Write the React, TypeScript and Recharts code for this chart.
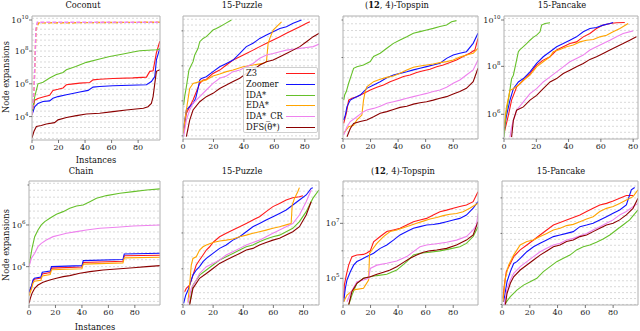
import React from 'react';
import { LineChart, Line, XAxis, YAxis, ReferenceLine } from 'recharts';

// every point is [instance, log10(node expansions)]
type Pt = [number, number];

// ---- Coconut
const c1Z3: Pt[] = [[0,4.1],[2,5.0],[4.5,5.1],[8.3,5.2],[13.3,5.3],[15.8,5.6],[19.6,5.67],[23.4,5.75],[25.9,5.94],[29.7,5.98],[36,6.04],[43.5,6.08],[46,6.24],[51,6.28],[61,6.32],[76,6.36],[86.3,6.41],[88.8,6.76],[91.3,6.8],[92.6,7.37],[93.8,7.9],[96.4,8.6]];
const c1Zoomer: Pt[] = [[0,4.1],[2,4.6],[4.5,4.8],[8.3,4.92],[13.3,4.96],[15.8,5.12],[19.6,5.22],[25.9,5.33],[29.7,5.39],[36,5.5],[42.3,5.6],[46,5.8],[51,5.84],[61,5.88],[86.3,5.94],[90,6.14],[92.6,6.45],[93.8,7.47],[96.4,8.18]];
const c1IDA: Pt[] = [[0,4.2],[2,5.2],[4.5,6.0],[8.3,6.1],[13.3,6.35],[18,6.55],[23.4,6.69],[25.9,6.86],[33,7.06],[41,7.31],[51,7.51],[58.6,7.67],[68.7,7.82],[76.2,7.94],[81.3,8.02],[93.8,8.08],[96.4,8.12]];
const c1EDA: Pt[] = [[0,4.1],[1.5,5.5],[3,9.3],[5,9.72],[96.5,9.76]];
const c1CR: Pt[] = [[0,4.1],[1.5,5.5],[3,9.4],[4,9.76],[96.5,9.76]];
const c1DFS: Pt[] = [[0,2.7],[1.5,3.1],[3.3,3.4],[7,3.45],[10.8,3.55],[17,3.63],[19.6,3.8],[26,3.94],[33.5,4.06],[41,4.16],[51,4.2],[61,4.3],[71,4.4],[84,4.51],[87.5,4.6],[90,4.8],[91.3,5.22],[92.6,6.04],[93.8,6.76],[96.4,6.86]];

// ---- 15-Puzzle (top)
const c2Z3: Pt[] = [[0.4,4.14],[2.2,5.29],[4.4,5.67],[6.6,6.05],[11,7.0],[13.2,7.19],[15.3,7.22],[19.7,7.57],[24.1,7.76],[28.5,8.05],[32.9,8.33],[37.3,8.52],[41.6,8.71],[46,8.9],[50.4,9.1],[54.8,9.29],[59.2,9.48],[63.6,9.67],[67.9,9.86],[72.3,10.05],[76.7,10.24],[81.1,10.43],[83.3,10.52]];
const c2Zoomer: Pt[] = [[0.4,4.43],[2.2,5.48],[4.4,5.67],[6.6,5.86],[8.3,6.14],[9.9,6.71],[11,7.19],[12.1,7.28],[15.3,7.38],[19.7,7.67],[24.1,7.95],[28.5,8.14],[32.9,8.33],[37.3,8.71],[41.6,9.1],[46,9.29],[50.4,9.57],[54.8,9.76],[59.2,9.95],[63.6,10.14],[67.9,10.24],[72.3,10.43],[77.8,10.62]];
const c2IDA: Pt[] = [[0.4,5.76],[1.1,6.24],[2.2,6.8],[3.9,7.76],[5.5,8.05],[6.6,8.24],[7.7,8.62],[9.9,9.0],[11,9.38],[13.2,9.57],[15.3,9.67],[17.5,9.86],[19.7,10.05],[21.9,10.14],[24.1,10.24],[27.4,10.4],[31.8,10.62]];
const c2EDA: Pt[] = [[0,4.14],[2.2,5.48],[4.4,6.71],[5.5,6.85],[6.6,7.0],[11,7.1],[15.3,7.19],[19.7,7.42],[24.1,7.53],[28.5,7.67],[32.9,7.76],[39.5,7.95],[46,8.05],[52.6,8.14],[54.8,8.24],[55.9,9.29],[57,9.57],[59.2,10.05],[62.5,10.33],[64.7,10.52]];
const c2CR: Pt[] = [[0.4,3.95],[2.2,4.9],[4.4,5.48],[6.6,5.86],[11,6.24],[15.3,6.62],[19.7,7.0],[24.1,7.29],[28.5,7.42],[32.9,7.67],[37.3,7.76],[41.6,7.95],[46,8.14],[50.4,8.43],[54.8,8.62],[59.2,8.71],[63.6,8.81],[67.9,8.9],[72.3,8.95],[76.7,9.0],[81.1,9.05],[85.5,9.1],[89.4,9.25]];
const c2DFS: Pt[] = [[2.2,3.95],[4.4,4.9],[6.6,5.48],[11,5.95],[15.3,6.24],[19.7,6.43],[24.1,6.71],[28.5,6.9],[32.9,7.1],[37.3,7.29],[41.6,7.57],[46,7.76],[50.4,8.05],[54.8,8.24],[59.2,8.33],[63.6,8.52],[67.9,8.71],[72.3,8.9],[76.7,9.1],[81.1,9.38],[85.5,9.67],[89.4,9.86]];

// ---- (12, 4)-Topspin (top)
const c3Z3: Pt[] = [[0.5,4.75],[2.4,5.25],[4.1,5.9],[6.5,5.99],[10.1,6.07],[14.9,6.23],[19.8,6.4],[24.6,6.53],[29.4,6.65],[34.2,6.81],[39,6.93],[43.9,7.06],[48.7,7.14],[53.5,7.26],[58.3,7.35],[63.1,7.42],[68,7.55],[72.8,7.63],[77.6,7.75],[82.4,7.88],[87.2,8.05],[92,8.21],[95.7,8.37],[98,8.95]];
const c3Zoomer: Pt[] = [[0.5,4.92],[1.7,5.16],[2.9,5.58],[5.3,5.9],[7.7,5.99],[12.5,6.15],[17.3,6.48],[22.2,6.65],[27,6.81],[31.8,7.0],[36.6,7.14],[41.4,7.22],[46.3,7.3],[51.1,7.39],[55.9,7.47],[60.7,7.55],[65.5,7.63],[70.4,7.72],[75.2,7.96],[80,8.13],[84.8,8.21],[89.6,8.29],[94.5,8.7],[98,9.2]];
const c3IDA: Pt[] = [[0.5,5.9],[1.2,6.15],[2.4,6.32],[4.1,6.73],[6.5,7.22],[7.7,7.47],[10.1,7.55],[14.9,7.63],[19.8,7.8],[22.2,8.05],[27,8.21],[31.8,8.46],[36.6,8.7],[41.4,8.87],[46.3,9.03],[51.1,9.2],[55.9,9.28],[60.7,9.36],[65.5,9.44],[70.4,9.53],[75.2,9.61],[78.8,9.77],[82.4,9.82]];
const c3EDA: Pt[] = [[0.5,4.26],[4.1,4.59],[7.7,4.66],[10.1,4.92],[12.5,5.08],[13.7,5.16],[14.9,5.9],[16.1,6.32],[17.3,6.56],[22.2,6.81],[27,6.93],[31.8,7.02],[36.6,7.09],[41.4,7.22],[46.3,7.39],[51.1,7.52],[55.9,7.58],[60.7,7.63],[65.5,7.68],[70.4,7.75],[75.2,7.8],[80,7.88],[84.8,8.02],[89.6,8.13],[94.5,8.21],[98,8.46]];
const c3CR: Pt[] = [[0.5,4.18],[2.9,4.59],[5.3,4.84],[10.1,5.08],[14.9,5.33],[17.3,5.41],[22.2,5.49],[27,5.6],[31.8,5.74],[36.6,5.82],[41.4,5.9],[46.3,5.99],[51.1,6.07],[55.9,6.15],[60.7,6.23],[65.5,6.32],[70.4,6.4],[75.2,6.53],[80,6.73],[84.8,6.89],[89.6,7.14],[94.5,7.39],[98,7.88]];
const c3DFS: Pt[] = [[2.9,4.09],[5.3,4.5],[7.7,4.75],[12.5,4.84],[17.3,4.92],[22.2,5.08],[27,5.25],[31.8,5.33],[36.6,5.44],[41.4,5.54],[46.3,5.6],[51.1,5.7],[55.9,5.77],[60.7,5.82],[65.5,5.9],[70.4,5.99],[75.2,6.07],[80,6.2],[84.8,6.32],[89.6,6.48],[94.5,6.81],[98,7.47]];

// ---- 15-Pancake (top)
const c4Z3: Pt[] = [[0,5.19],[2.7,5.96],[4.7,6.59],[7.8,7.14],[12,7.42],[16.1,7.7],[20.2,8.05],[24.3,8.26],[28.5,8.4],[32.6,8.68],[36.7,8.82],[40.8,8.95],[44.9,9.02],[49.1,9.23],[53.2,9.37],[57.3,9.58],[61.4,9.72],[65.6,9.79],[69.7,9.82],[74.8,9.83]];
const c4Zoomer: Pt[] = [[0,5.33],[1.6,5.96],[3.7,6.59],[5.8,7.07],[8.9,7.35],[12,7.49],[16.1,7.77],[20.2,8.12],[24.3,8.4],[28.5,8.61],[32.6,8.82],[36.7,8.95],[40.8,9.09],[44.9,9.23],[49.1,9.44],[53.2,9.58],[57.3,9.62],[61.4,9.72],[65.6,9.79],[67.6,9.83]];
const c4IDA: Pt[] = [[0,5.05],[1.2,6.03],[2.7,6.59],[4.7,7.49],[5.8,7.63],[7.8,8.26],[8.9,8.61],[9.9,8.7],[12,8.82],[14,8.95],[16.1,9.09],[18.1,9.21],[20.2,9.3],[22.3,9.44],[23.3,9.72],[25.4,9.79],[28.5,9.82]];
const c4EDA: Pt[] = [[0,5.47],[1.6,6.31],[3.7,7.0],[5.8,7.07],[8.9,7.21],[12,7.42],[16.1,7.63],[20.2,7.98],[24.3,8.19],[28.5,8.4],[30.5,8.61],[34.6,8.7],[38.8,8.82],[42.9,8.89],[47,9.02],[51.1,9.09],[55.3,9.12],[59.4,9.23],[63.5,9.3],[67.6,9.44],[71.8,9.58],[76.9,9.79]];
const c4CR: Pt[] = [[3.7,5.05],[4.7,5.47],[5.8,5.75],[7.8,6.17],[12,6.52],[16.1,6.86],[20.2,7.07],[24.3,7.35],[28.5,7.56],[32.6,7.77],[36.7,7.98],[40.8,8.19],[44.9,8.33],[49.1,8.47],[53.2,8.68],[57.3,8.82],[61.4,8.95],[65.6,9.09],[69.7,9.23],[73.8,9.37],[80,9.48]];
const c4DFS: Pt[] = [[4.7,5.05],[5.8,5.75],[7.8,6.17],[12,6.31],[16.1,6.59],[20.2,6.79],[24.3,7.07],[28.5,7.35],[32.6,7.49],[36.7,7.7],[40.8,7.84],[44.9,7.98],[49.1,8.12],[53.2,8.29],[57.3,8.4],[61.4,8.54],[65.6,8.68],[69.7,8.82],[73.8,8.95],[77.9,9.09],[82,9.23]];

// ---- Chain
const c5Z3: Pt[] = [[0,2.75],[2,3.05],[3,3.3],[4,3.4],[9,3.45],[10,3.65],[16,3.72],[17,3.93],[40,3.98],[41,4.2],[71,4.26],[72,4.52],[99,4.55]];
const c5Zoomer: Pt[] = [[0,2.8],[2,3.1],[3,3.36],[4,3.44],[9,3.5],[10,3.73],[16,3.79],[17,4.0],[40,4.05],[41,4.29],[71,4.34],[72,4.61],[99,4.64]];
const c5IDA: Pt[] = [[0,4.0],[1,4.4],[2.3,4.88],[4.3,5.44],[6.8,5.76],[9.3,6.0],[11.9,6.16],[15.7,6.32],[20.7,6.51],[25.8,6.64],[30.8,6.8],[35.9,6.91],[40.9,6.96],[46,7.12],[51,7.28],[58.6,7.41],[68.7,7.52],[78.8,7.6],[88.9,7.68],[99,7.73]];
const c5EDA: Pt[] = [[0,2.6],[2,2.95],[3,3.2],[4,3.3],[9,3.35],[10,3.55],[16,3.62],[17,3.85],[40,3.9],[41,4.12],[71,4.18],[72,4.42],[99,4.45]];
const c5CR: Pt[] = [[0,4.0],[1.8,4.4],[4.3,4.64],[6.8,4.96],[9.3,5.12],[13.1,5.28],[18.2,5.44],[23.2,5.52],[28.3,5.6],[35.9,5.68],[43.4,5.76],[53.5,5.84],[66.2,5.89],[78.8,5.95],[99,6.0]];
const c5DFS: Pt[] = [[0,2.24],[1,2.48],[2.3,2.72],[4.3,2.96],[6.8,3.12],[10.6,3.25],[15.7,3.36],[20.7,3.44],[25.8,3.52],[30.8,3.57],[38.4,3.68],[46,3.76],[56,3.84],[66.2,3.89],[78.8,3.95],[88.9,4.0],[99,4.05]];

// ---- 15-Puzzle (bottom)
const c6Z3: Pt[] = [[1.1,4.72],[2.2,4.91],[4.4,5.09],[6.6,5.65],[8.8,6.21],[11,6.49],[13.3,6.77],[15.5,7.05],[17.7,7.23],[19.9,7.47],[24.3,7.79],[28.7,7.98],[33.1,8.16],[37.6,8.35],[42,8.53],[46.4,8.72],[50.8,8.91],[55.2,9.19],[59.7,9.47],[64.1,9.65],[68.5,9.84],[72.9,9.97],[77.3,10.02],[79.6,10.08]];
const c6Zoomer: Pt[] = [[0.4,4.07],[1.8,4.53],[3.3,4.8],[5.5,5.37],[6.6,5.65],[8.8,5.93],[11,6.12],[13.3,6.4],[15.5,6.58],[19.9,6.86],[24.3,7.14],[28.7,7.33],[33.1,7.6],[37.6,7.79],[42,8.07],[46.4,8.35],[50.8,8.53],[55.2,8.72],[59.7,8.91],[64.1,9.09],[68.5,9.28],[72.9,9.56],[77.3,9.84],[81.8,10.12],[85.1,10.49],[86.2,10.53]];
const c6IDA: Pt[] = [[4.4,4.07],[6.6,5.09],[11,5.65],[15.5,5.93],[19.9,6.21],[24.3,6.49],[28.7,6.67],[33.1,6.86],[37.6,7.05],[42,7.23],[46.4,7.33],[50.8,7.51],[55.2,7.66],[59.7,7.79],[64.1,7.88],[68.5,8.07],[72.9,8.26],[77.3,8.63],[81.8,9.19],[86.2,9.93],[90.2,10.4]];
const c6EDA: Pt[] = [[3.3,4.16],[4.4,5.09],[5.5,6.21],[6.6,6.58],[8.8,6.67],[11,7.05],[13.3,7.23],[15.5,7.33],[19.9,7.47],[24.3,7.55],[28.7,7.6],[33.1,7.66],[37.6,7.79],[42,7.88],[46.4,7.98],[50.8,8.07],[55.2,8.16],[59.7,8.26],[64.1,8.35],[69.6,8.48],[71.8,8.53],[72.5,9.56],[74,9.93],[76.2,10.3],[77.3,10.53]];
const c6CR: Pt[] = [[3.3,4.07],[5.5,4.91],[8.8,5.37],[11,5.74],[15.5,6.12],[19.9,6.3],[24.3,6.49],[28.7,6.77],[33.1,6.95],[37.6,7.14],[42,7.33],[46.4,7.47],[50.8,7.6],[55.2,7.79],[59.7,7.98],[64.1,8.16],[68.5,8.35],[72.9,8.53],[77.3,9.0],[81.8,9.74],[85.1,10.4]];
const c6DFS: Pt[] = [[4.4,3.98],[6.6,4.91],[11,5.47],[15.5,5.74],[19.9,6.02],[24.3,6.3],[28.7,6.49],[33.1,6.67],[37.6,6.86],[42,7.05],[46.4,7.14],[50.8,7.33],[55.2,7.47],[59.7,7.6],[64.1,7.7],[68.5,7.88],[72.9,8.07],[77.3,8.35],[81.8,9.0],[85.1,9.74]];

// ---- (12, 4)-Topspin (bottom)
const c7Z3: Pt[] = [[0.5,4.27],[1,4.76],[2.4,5.12],[4.1,5.48],[6.5,5.79],[10.1,5.85],[14.9,5.87],[17.3,5.92],[19.8,6.0],[22.2,6.33],[27,6.52],[31.8,6.7],[36.6,6.76],[41.4,6.82],[46.3,6.94],[51.1,7.06],[55.9,7.12],[60.7,7.18],[65.5,7.3],[70.4,7.42],[75.2,7.48],[80,7.55],[84.8,7.61],[89.6,7.67],[94.5,7.79],[98,8.15]];
const c7Zoomer: Pt[] = [[0.5,4.15],[1.7,4.64],[2.9,4.94],[5.3,5.24],[7.7,5.48],[10.1,5.61],[12.5,5.67],[17.3,5.79],[22.2,5.91],[27,6.09],[31.8,6.21],[36.6,6.39],[41.4,6.58],[46.3,6.7],[51.1,6.82],[55.9,6.88],[60.7,6.94],[65.5,6.96],[70.4,7.0],[75.2,7.06],[80,7.12],[84.8,7.18],[89.6,7.3],[94.5,7.55],[98,7.79]];
const c7IDA: Pt[] = [[4.1,4.03],[6.5,4.39],[10.1,4.82],[14.9,5.0],[19.8,5.06],[24.6,5.1],[31.8,5.15],[39,5.3],[46.3,5.61],[51.1,5.85],[55.9,5.91],[63.1,5.95],[70.4,6.0],[77.6,6.07],[84.8,6.15],[89.6,6.27],[94.5,6.52],[98,6.88]];
const c7EDA: Pt[] = [[0.5,4.15],[2.9,4.39],[7.7,4.58],[14.9,4.64],[18.6,4.94],[19.3,5.91],[21,6.03],[24.6,6.27],[29.4,6.52],[34.2,6.7],[39,6.76],[43.9,6.84],[48.7,6.92],[53.5,7.0],[58.3,7.08],[63.1,7.16],[68,7.21],[72.8,7.28],[77.6,7.33],[82.4,7.36],[87.2,7.42],[92,7.55],[98,7.73]];
const c7CR: Pt[] = [[2.9,4.15],[5.3,4.45],[10.1,4.88],[14.9,4.94],[18.6,5.0],[19.8,5.36],[24.6,5.48],[31.8,5.55],[39,5.63],[46.3,5.79],[51.1,5.97],[55.9,6.15],[60.7,6.21],[68,6.26],[75.2,6.31],[82.4,6.39],[89.6,6.52],[94.5,6.76],[96.9,6.94],[98,7.36]];
const c7DFS: Pt[] = [[4.1,4.03],[6.5,4.52],[10.1,4.82],[14.9,5.0],[19.8,5.06],[24.6,5.15],[29.4,5.22],[34.2,5.3],[39,5.42],[43.9,5.58],[48.7,5.73],[53.5,5.85],[58.3,5.95],[63.1,6.0],[68,6.03],[75.2,6.09],[82.4,6.21],[89.6,6.39],[94.5,6.58],[98,7.06]];

// ---- 15-Pancake (bottom)
const c8Z3: Pt[] = [[0.7,3.34],[1.7,4.09],[3.1,4.85],[6,5.31],[8.4,5.69],[13.1,6.07],[17.9,6.35],[22.7,6.63],[27.4,6.91],[32.2,7.19],[37,7.47],[41.8,7.62],[46.5,7.76],[51.3,7.89],[56.1,8.04],[60.9,8.23],[65.6,8.41],[70.4,8.6],[75.2,8.69],[80,8.83],[84.7,8.98],[89.5,9.13],[94.3,9.13]];
const c8Zoomer: Pt[] = [[1.2,3.15],[3.6,4.28],[6,4.85],[8.4,5.31],[10.7,5.41],[13.1,5.6],[17.9,5.97],[22.7,6.25],[27.4,6.44],[32.2,6.63],[37,6.82],[41.8,6.91],[46.5,7.0],[51.3,7.1],[56.1,7.38],[60.9,7.47],[65.6,7.57],[70.4,7.76],[75.2,7.94],[80,8.13],[84.7,8.32],[89.5,8.6],[93.1,9.45],[95.5,9.58]];
const c8IDA: Pt[] = [[2.4,3.06],[6,3.44],[10.7,3.81],[15.5,4.09],[20.3,4.28],[25.1,4.47],[29.8,4.85],[34.6,5.13],[39.4,5.41],[44.2,5.6],[48.9,5.78],[53.7,6.07],[58.5,6.25],[63.2,6.35],[68,6.5],[72.8,6.69],[77.6,6.91],[82.3,7.19],[87.1,7.47],[91.9,7.76],[97.9,8.32]];
const c8EDA: Pt[] = [[0.7,3.15],[2.4,4.47],[4.8,5.22],[8.4,5.78],[13.1,6.35],[17.9,6.54],[22.7,6.63],[27.4,6.82],[32.2,7.0],[37,7.19],[41.8,7.29],[46.5,7.44],[51.3,7.51],[56.1,7.66],[60.9,7.81],[65.6,7.94],[70.4,8.23],[75.2,8.41],[80,8.51],[84.7,8.69],[89.5,8.88],[94.3,9.07],[97.9,9.45]];
const c8CR: Pt[] = [[1.7,2.97],[3.6,3.91],[6,4.38],[8.4,4.75],[13.1,5.13],[17.9,5.41],[22.7,5.69],[27.4,5.97],[32.2,6.16],[37,6.35],[41.8,6.44],[46.5,6.63],[51.3,6.72],[56.1,6.87],[60.9,7.0],[65.6,7.19],[70.4,7.38],[75.2,7.57],[80,7.76],[84.7,8.04],[89.5,8.23],[94.3,8.51],[97.9,8.69]];
const c8DFS: Pt[] = [[2.4,2.97],[3.6,3.62],[6,4.19],[8.4,4.56],[13.1,4.94],[17.9,5.22],[22.7,5.5],[27.4,5.78],[32.2,6.01],[37,6.25],[41.8,6.35],[46.5,6.54],[51.3,6.63],[56.1,6.82],[60.9,6.91],[65.6,7.1],[70.4,7.29],[75.2,7.47],[80,7.57],[84.7,7.76],[89.5,8.04],[94.3,8.41],[97.9,8.98]];

const SERIES = [
  { name: 'Z3', color: '#ff1a1a' },
  { name: 'Zoomer', color: '#1010ff' },
  { name: 'IDA*', color: '#66c02a' },
  { name: 'EDA*', color: '#ffa500' },
  { name: 'IDA*_CR', color: '#ee82ee' },
  { name: 'DFS(θ*)', color: '#8b0000' },
];

const X_TICKS = [0, 20, 40, 60, 80];
const X_MINOR = [0, 10, 20, 30, 40, 50, 60, 70, 80, 90];

const SERIF = '"DejaVu Serif", "Liberation Serif", serif';
const YAW = 30; // left axis width
const RW = 5;
const TOPH = 5;
const XAH = 16;

const topspin = <>(<b>12</b>, 4)-Topspin</>;

const PANELS = [
  { key: 'coconut', title: 'Coconut', tx: 83, ty: 5, box: [32, 16, 160, 140], xMax: 96.5, yLog: [2.57, 10.14], labels: [4, 6, 8, 10], gridDiv: 3, dashed: [3, 4], series: [c1Z3, c1Zoomer, c1IDA, c1EDA, c1CR, c1DFS] },
  { key: 'puz1', title: '15-Puzzle', tx: 242, ty: 5, box: [183, 16, 319, 139], xMax: 89.3, yLog: [3.82, 10.85], labels: [5, 7, 9], gridDiv: 3, dashed: [], series: [c2Z3, c2Zoomer, c2IDA, c2EDA, c2CR, c2DFS] },
  { key: 'top1', title: topspin, tx: 397, ty: 5, box: [343, 16, 478, 139], xMax: 98, yLog: [3.98, 10.05], labels: [5, 7, 9], gridDiv: 3, dashed: [], series: [c3Z3, c3Zoomer, c3IDA, c3EDA, c3CR, c3DFS] },
  { key: 'pan1', title: '15-Pancake', tx: 562, ty: 5, box: [504, 16, 638, 139], xMax: 83, yLog: [4.97, 10.1], labels: [6, 8, 10], gridDiv: 4, dashed: [], series: [c4Z3, c4Zoomer, c4IDA, c4EDA, c4CR, c4DFS] },
  { key: 'chain', title: 'Chain', tx: 81, ty: 171, box: [29, 181, 160, 305], xMax: 99, yLog: [2.16, 8.11], labels: [4, 6], gridDiv: 3, dashed: [], series: [c5Z3, c5Zoomer, c5IDA, c5EDA, c5CR, c5DFS] },
  { key: 'puz2', title: '15-Puzzle', tx: 242, ty: 171, box: [183, 181, 319, 305], xMax: 90.3, yLog: [3.98, 10.9], labels: [5, 7, 9], gridDiv: 3, dashed: [], series: [c6Z3, c6Zoomer, c6IDA, c6EDA, c6CR, c6DFS] },
  { key: 'top2', title: topspin, tx: 403, ty: 171, box: [343, 181, 478, 305], xMax: 98, yLog: [4.03, 8.54], labels: [5, 7], gridDiv: 4, dashed: [], series: [c7Z3, c7Zoomer, c7IDA, c7EDA, c7CR, c7DFS] },
  { key: 'pan2', title: '15-Pancake', tx: 561, ty: 171, box: [502, 181, 638, 305], xMax: 97.9, yLog: [2.97, 9.95], labels: [4, 6, 8], gridDiv: 3, dashed: [], series: [c8Z3, c8Zoomer, c8IDA, c8EDA, c8CR, c8DFS] },
];

const toPts = (arr: Pt[]) => arr.map(([x, e]) => ({ x, y: Math.pow(10, e) }));

const LogTick = (props: any) => {
  const { y, payload, labels } = props;
  const e = Math.round(Math.log10(payload.value));
  const major = labels.includes(e);
  return (
    <g>
      <line x1={YAW - (major ? 3 : 1.5)} x2={YAW} y1={y} y2={y} stroke="#555" strokeWidth={0.8} />
      {major && (
        <text x={YAW - 3.5} y={y} dy={3} textAnchor="end" fontSize={8} fontFamily={SERIF} fill="#222">
          10<tspan dy={-4} fontSize={5.5}>{e}</tspan>
        </text>
      )}
    </g>
  );
};

const Panel = ({ p }: { p: any }) => {
  const [L, T, R, B] = p.box;
  const w = R - L + YAW + RW;
  const h = B - T + TOPH + XAH;
  const [lo, hi] = p.yLog;
  const domain = [Math.pow(10, lo), Math.pow(10, hi)];
  const decades: number[] = [];
  for (let k = Math.ceil(lo); k <= Math.floor(hi); k++) decades.push(Math.pow(10, k));
  const majors = p.labels.map((k: number) => Math.pow(10, k));
  const grid: number[] = [];
  for (let k = Math.ceil(lo * p.gridDiv); k <= Math.floor(hi * p.gridDiv); k++) grid.push(Math.pow(10, k / p.gridDiv));
  const axisLine = { stroke: '#b0b0b0', strokeWidth: 1 };
  const tickLine = { stroke: '#555', strokeWidth: 0.8 };
  return (
    <>
      <div style={{ position: 'absolute', left: L - YAW, top: T - TOPH }}>
        <LineChart width={w} height={h} margin={{ top: 0, right: 0, bottom: 0, left: 0 }}>
          <XAxis
            type="number"
            dataKey="x"
            domain={[0, p.xMax]}
            allowDataOverflow
            ticks={X_TICKS}
            height={XAH}
            tickSize={3}
            tickMargin={1}
            axisLine={axisLine}
            tickLine={tickLine}
            tick={{ fontSize: 8, fontFamily: SERIF, fill: '#222' }}
          />
          <XAxis
            xAxisId="top"
            orientation="top"
            type="number"
            dataKey="x"
            domain={[0, p.xMax]}
            allowDataOverflow
            ticks={X_MINOR}
            height={TOPH}
            tickSize={3}
            axisLine={axisLine}
            tickLine={tickLine}
            tick={false}
          />
          <YAxis
            type="number"
            scale="log"
            domain={domain}
            allowDataOverflow
            ticks={decades}
            width={YAW}
            tickLine={false}
            axisLine={axisLine}
            tick={(tp: any) => <LogTick {...tp} labels={p.labels} />}
          />
          <YAxis
            yAxisId="r"
            orientation="right"
            type="number"
            scale="log"
            domain={domain}
            allowDataOverflow
            ticks={majors}
            width={RW}
            tickSize={3}
            axisLine={axisLine}
            tickLine={tickLine}
            tick={false}
          />
          {grid.map((g) => (
            <ReferenceLine key={g} y={g} stroke="#c8c8c8" strokeWidth={0.7} strokeDasharray="2 2" />
          ))}
          {SERIES.map((s, i) => (
            <Line
              key={s.name}
              data={toPts(p.series[i])}
              dataKey="y"
              name={s.name}
              type="linear"
              stroke={s.color}
              strokeWidth={p.dashed.includes(i) ? 1.4 : 1.1}
              strokeDasharray={p.dashed.includes(i) ? '4 2' : undefined}
              dot={false}
              activeDot={false}
              isAnimationActive={false}
            />
          ))}
        </LineChart>
      </div>
      <div
        style={{
          position: 'absolute',
          left: p.tx,
          top: p.ty - 5,
          transform: 'translateX(-50%)',
          fontSize: 8.3,
          lineHeight: '10px',
          whiteSpace: 'nowrap',
          fontFamily: SERIF,
          color: '#111',
        }}
      >
        {p.title}
      </div>
    </>
  );
};

const Legend = () => (
  <div
    style={{
      position: 'absolute',
      left: 243,
      top: 67,
      width: 75,
      height: 66,
      background: 'rgba(255,255,255,0.85)',
      border: '1px solid #cfcfcf',
      borderRadius: 2,
      boxSizing: 'border-box',
      fontFamily: SERIF,
      fontSize: 8.3,
      color: '#111',
    }}
  >
    {SERIES.map((s) => (
      <div key={s.name} style={{ height: 10.8, position: 'relative' }}>
        <span style={{ position: 'absolute', left: 2, top: 0, lineHeight: '11px', whiteSpace: 'nowrap' }}>{s.name}</span>
        <span style={{ position: 'absolute', left: 42, width: 29, top: 5, borderTop: `1.5px solid ${s.color}` }} />
      </div>
    ))}
  </div>
);

const axisLabel = (text: string, x: number, y: number, rotate: boolean) => (
  <div
    style={{
      position: 'absolute',
      left: x,
      top: y,
      transform: `translate(-50%, -50%)${rotate ? ' rotate(-90deg)' : ''}`,
      fontSize: 8.3,
      lineHeight: '10px',
      whiteSpace: 'nowrap',
      fontFamily: SERIF,
      color: '#111',
    }}
  >
    {text}
  </div>
);

export default function App() {
  return (
    <div style={{ position: 'absolute', left: 0, top: 0, width: 640, height: 331, background: '#fff', overflow: 'hidden' }}>
      {PANELS.map((p) => (
        <Panel key={p.key} p={p} />
      ))}
      <Legend />
      {axisLabel('Node expansions', 6, 77, true)}
      {axisLabel('Instances', 96, 160, false)}
      {axisLabel('Node expansions', 6, 245, true)}
      {axisLabel('Instances', 95, 327, false)}
    </div>
  );
}
